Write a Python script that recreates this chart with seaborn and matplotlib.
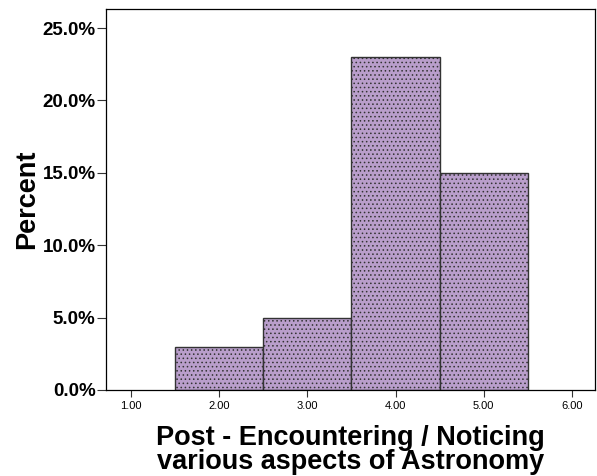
import matplotlib
matplotlib.use("Agg")
import matplotlib.pyplot as plt
import matplotlib.ticker as mticker
import seaborn as sns

# score values and percent of respondents
scores = [2, 3, 4, 5]
percents = [3.0, 5.0, 23.0, 15.0]
xticks = [1, 2, 3, 4, 5, 6]
yticks = [0, 5, 10, 15, 20, 25]

sns.set_style("ticks")
plt.rcParams['font.family'] = ['Liberation Sans', 'DejaVu Sans']
plt.rcParams['text.color'] = 'black'
plt.rcParams['axes.labelcolor'] = 'black'
plt.rcParams['hatch.color'] = '#8a749c'
plt.rcParams['hatch.linewidth'] = 0.6

fig = plt.figure(figsize=(5.97, 4.76), dpi=100)
ax = fig.add_axes([0.1776, 0.1807, 0.819, 0.800])

sns.histplot(x=scores, weights=percents, discrete=True, ax=ax,
             color='#b99ecb', edgecolor='#333333', linewidth=1.0, alpha=1)
for p in ax.patches:
    p.set_hatch('....')

ax.set_xlim(0.72, 6.26)
ax.set_ylim(0, 26.3)
ax.set_xticks(xticks)
ax.set_xticklabels([f"{v:.2f}" for v in xticks], fontsize=8)
ax.set_yticks(yticks)
ax.yaxis.set_major_formatter(mticker.FuncFormatter(lambda v, _: f"{v:.1f}%"))
for lbl in ax.get_yticklabels():
    lbl.set_fontweight('bold')
    lbl.set_fontsize(13.5)
ax.tick_params(axis='x', direction='out', length=5, width=0.8, colors='#333333',
               labelcolor='black', pad=3)
ax.tick_params(axis='y', direction='out', length=6.5, width=0.8, colors='#333333',
               labelcolor='black', pad=1)

for s in ax.spines.values():
    s.set_visible(True)
    s.set_color('black')
    s.set_linewidth(0.9)

ax.set_ylabel('Percent', fontsize=19.5, fontweight='bold', labelpad=2)
ax.set_xlabel('Post - Encountering / Noticing\nvarious aspects of Astronomy',
              fontsize=19.5, fontweight='bold', linespacing=0.9, labelpad=10)

fig.savefig('out.png', dpi=100)
